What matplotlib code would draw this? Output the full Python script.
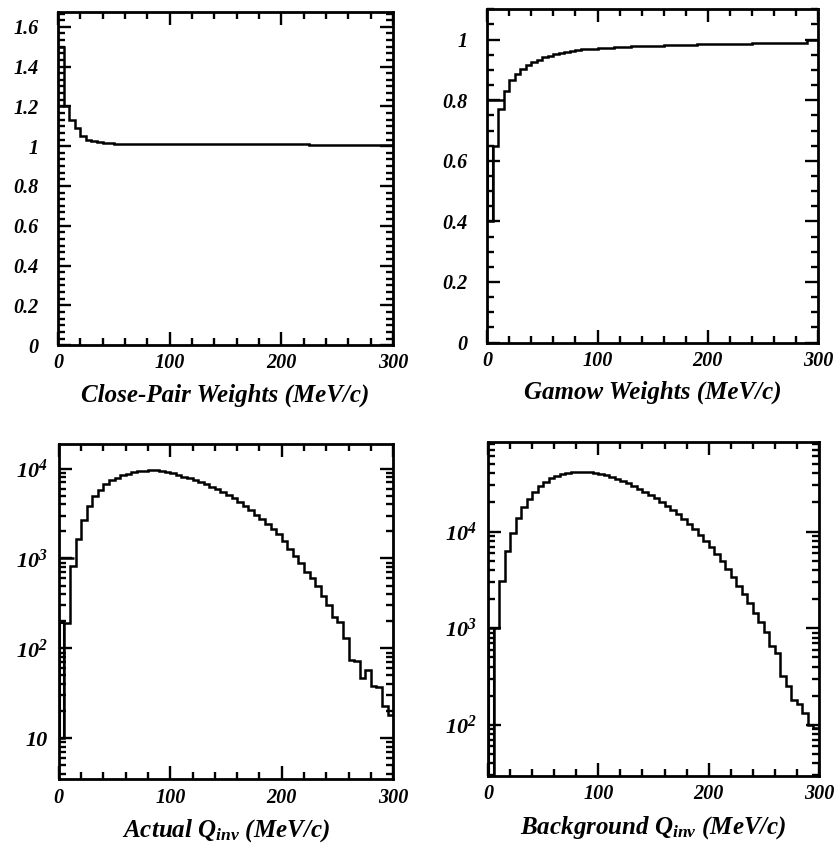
import numpy as np
import matplotlib
matplotlib.use("Agg")
import matplotlib.pyplot as plt
from matplotlib.ticker import MultipleLocator, AutoMinorLocator, FuncFormatter, LogLocator, NullFormatter

plt.rcParams['font.family'] = ['Liberation Serif', 'DejaVu Serif']
plt.rcParams['font.style'] = 'italic'
plt.rcParams['font.weight'] = 'bold'
plt.rcParams['axes.labelweight'] = 'bold'
plt.rcParams['mathtext.fontset'] = 'custom'
plt.rcParams['mathtext.rm'] = 'Liberation Serif:style=italic:weight=bold'
plt.rcParams['mathtext.it'] = 'Liberation Serif:style=italic:weight=bold'
plt.rcParams['mathtext.bf'] = 'Liberation Serif:style=italic:weight=bold'

# 5 MeV/c bins, 0-300
bin_edges = np.linspace(0, 300, 61)

close_pair = [1.50, 1.20, 1.13, 1.09, 1.05, 1.03, 1.025, 1.02, 1.017, 1.014,
              1.012, 1.011, 1.01, 1.01, 1.01, 1.01, 1.01, 1.01, 1.01, 1.01,
              1.01, 1.01, 1.01, 1.01, 1.01, 1.01, 1.01, 1.01, 1.01, 1.01,
              1.01, 1.01, 1.01, 1.01, 1.01, 1.01, 1.01, 1.01, 1.01, 1.01,
              1.01, 1.01, 1.01, 1.01, 1.012, 1.008, 1.008, 1.007, 1.006, 1.006,
              1.005, 1.005, 1.005, 1.005, 1.005, 1.005, 1.005, 1.005, 1.005, 1.005]

gamow = [0.40, 0.65, 0.77, 0.83, 0.866, 0.888, 0.904, 0.916, 0.926, 0.934,
         0.941, 0.947, 0.953, 0.957, 0.960, 0.964, 0.966, 0.968, 0.969, 0.970,
         0.971, 0.972, 0.974, 0.975, 0.976, 0.977, 0.978, 0.978, 0.979, 0.979,
         0.980, 0.980, 0.981, 0.981, 0.982, 0.982, 0.983, 0.983, 0.984, 0.985,
         0.985, 0.985, 0.986, 0.986, 0.986, 0.987, 0.987, 0.987, 0.988, 0.988,
         0.988, 0.988, 0.989, 0.989, 0.989, 0.989, 0.990, 0.990, 1.0, 1.0]

actual_q = [10, 190, 820, 1650, 2700, 3800, 4900, 5850, 6700, 7400,
            7950, 8400, 8800, 9100, 9340, 9500, 9580, 9580, 9420, 9180,
            8870, 8500, 8150, 7800, 7480, 7170, 6700, 6260, 5890, 5510,
            5100, 4720, 4260, 3810, 3440, 3080, 2740, 2410, 2120, 1850,
            1570, 1290, 1060, 880, 710, 600, 500, 380, 300, 225,
            195, 130, 75, 72, 47, 57, 38, 37, 23, 18]

background_q = [20, 1000, 3100, 6300, 9600, 13700, 17900, 21600, 25900, 29700,
                32900, 35600, 37600, 39400, 40700, 41300, 41700, 41700, 41300, 40700,
                39700, 38500, 37000, 35300, 33400, 31600, 29700, 27800, 25900, 24000,
                22100, 20200, 18400, 16700, 15100, 13500, 12000, 10600, 9240, 8010,
                6890, 5830, 4900, 4080, 3370, 2760, 2250, 1810, 1450, 1150,
                910, 648, 550, 317, 250, 182, 162, 132, 100, 93]

# small overdrawn segments near the origin: (level, x from, x to) and box (top, bottom)
extras = {
    'cp': dict(hline=(1.2, 0, 5), box=None),
    'gw': dict(hline=(0.8, 0, 15), box=(0.65, 0.40)),
    'aq': dict(hline=(1000, 0, 14), box=(190, 10)),
    'bq': dict(hline=(1000, 0, 5), box=(1000, 10)),
}

xlabels = ['Close-Pair Weights (MeV/c)', 'Gamow Weights (MeV/c)',
           r'Actual $Q_{inv}$ (MeV/c)', r'Background $Q_{inv}$ (MeV/c)']


def log_fmt(v, pos):
    n = int(round(np.log10(v)))
    if n == 1:
        return '10'
    return r'$10^{%d}$' % n


def style(ax, xlabel, ypad, ysize):
    ax.set_xlim(0, 300)
    ax.xaxis.set_major_locator(MultipleLocator(100))
    ax.xaxis.set_minor_locator(AutoMinorLocator(5))
    ax.tick_params(which='both', direction='in', top=True, right=True, width=1.7)
    ax.tick_params(which='major', length=9.5, labelsize=14.5)
    ax.tick_params(which='minor', length=5)
    ax.tick_params(axis='y', pad=ypad, labelsize=ysize)
    ax.tick_params(axis='x', pad=6)
    for s in ax.spines.values():
        s.set_linewidth(2.0)
    ax.set_xlabel(xlabel, fontsize=18, labelpad=7)


fig = plt.figure(figsize=(8.4, 8.48), dpi=100)
ax_cp = fig.add_axes([0.069, 0.593, 0.399, 0.393])
ax_gw = fig.add_axes([0.580, 0.596, 0.394, 0.393])
ax_aq = fig.add_axes([0.070, 0.081, 0.398, 0.396])
ax_bq = fig.add_axes([0.581, 0.085, 0.394, 0.394])

panels = [(ax_cp, close_pair, 'cp'), (ax_gw, gamow, 'gw'),
          (ax_aq, actual_q, 'aq'), (ax_bq, background_q, 'bq')]

for (ax, vals, key), xl in zip(panels, xlabels):
    ax.stairs(vals, bin_edges, color='k', lw=1.8, baseline=None)
    lvl, x0, x1 = extras[key]['hline']
    ax.hlines(lvl, x0, x1, color='k', lw=1.8)
    if extras[key]['box'] is not None:
        top, bot = extras[key]['box']
        ax.stairs([top], [1, 5], baseline=bot, color='k', lw=1.5)
    if key in ('aq', 'bq'):
        ax.set_yscale('log')
        ax.yaxis.set_major_locator(LogLocator(base=10))
        ax.yaxis.set_minor_locator(LogLocator(base=10, subs=np.arange(2, 10)))
        ax.yaxis.set_major_formatter(FuncFormatter(log_fmt))
        ax.yaxis.set_minor_formatter(NullFormatter())
        style(ax, xl, 8, 16)
    else:
        ax.yaxis.set_major_locator(MultipleLocator(0.2))
        ax.yaxis.set_major_formatter(FuncFormatter(lambda v, p: '%g' % round(v, 2)))
        style(ax, xl, 14, 14.5)

ax_cp.set_ylim(0, 1.675)
ax_cp.yaxis.set_minor_locator(AutoMinorLocator(6))
ax_gw.set_ylim(0, 1.10)
ax_gw.yaxis.set_minor_locator(AutoMinorLocator(4))
ax_aq.set_ylim(3.5, 19000)
ax_bq.set_ylim(29.5, 85000)

fig.savefig('out.png', dpi=100)
